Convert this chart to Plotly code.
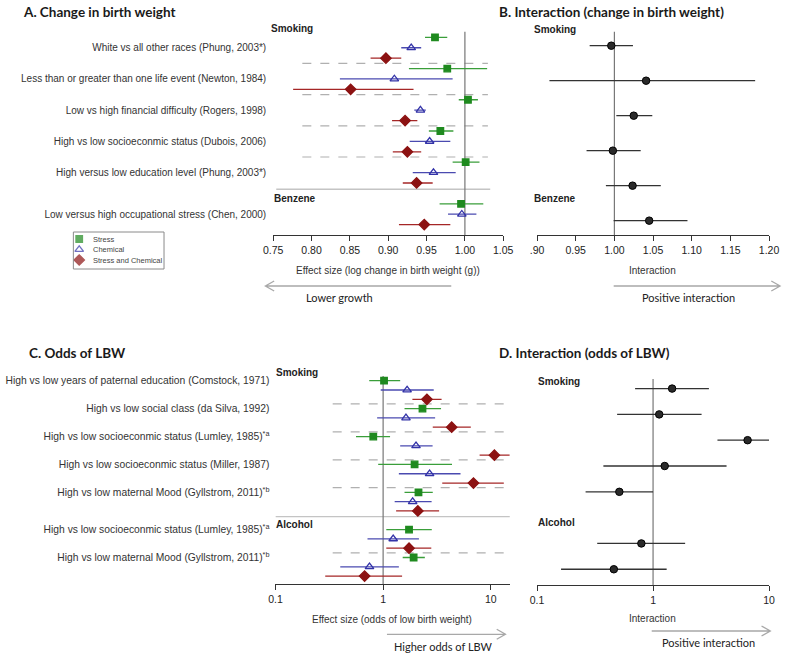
import plotly.graph_objects as go

W, H = 793, 653

# ---- panel A: change in birth weight ----
A_labels = [
    "White vs all other races (Phung, 2003*)",
    "Less than or greater than one life event (Newton, 1984)",
    "Low vs high financial difficulty (Rogers, 1998)",
    "High vs low socioeconmic status (Dubois, 2006)",
    "High versus low education level (Phung, 2003*)",
    "Low versus high occupational stress (Chen, 2000)",
]
A_group = ["Smoking", "Smoking", "Smoking", "Smoking", "Smoking", "Benzene"]
A_stress = [0.961, 0.977, 1.004, 0.968, 1.001, 0.995]
A_stress_lo = [0.948, 0.927, 0.992, 0.953, 0.984, 0.967]
A_stress_hi = [0.977, 1.029, 1.017, 0.985, 1.019, 1.024]
A_chem = [0.930, 0.908, 0.942, 0.954, 0.959, 0.996]
A_chem_lo = [0.917, 0.837, 0.934, 0.928, 0.932, 0.978]
A_chem_hi = [0.943, 0.984, 0.949, 0.981, 0.988, 1.015]
A_both = [0.897, 0.851, 0.922, 0.925, 0.937, 0.947]
A_both_lo = [0.877, 0.776, 0.905, 0.906, 0.919, 0.914]
A_both_hi = [0.917, 0.933, 0.938, 0.943, 0.958, 0.981]
A_ticks = [0.75, 0.80, 0.85, 0.90, 0.95, 1.00, 1.05]
A_ticktext = ["0.75", "0.80", "0.85", "0.90", "0.95", "1.00", "1.05"]

# ---- panel B: interaction (change in birth weight) ----
B_int = [0.996, 1.041, 1.025, 0.998, 1.0235, 1.045]
B_lo = [0.968, 0.916, 1.0025, 0.964, 0.989, 0.999]
B_hi = [1.024, 1.182, 1.049, 1.034, 1.060, 1.0945]
B_ticks = [0.90, 0.95, 1.00, 1.05, 1.10, 1.15, 1.20]
B_ticktext = [".90", "0.95", "1.00", "1.05", "1.10", "1.15", "1.20"]

# ---- panel C: odds of LBW ----
C_labels = [
    "High vs low years of paternal education (Comstock, 1971)",
    "High vs low social class (da Silva, 1992)",
    "High vs low socioeconmic status (Lumley, 1985)<sup>*a</sup>",
    "High vs low socioeconmic status (Miller, 1987)",
    "High vs low maternal Mood (Gyllstrom, 2011)<sup>*b</sup>",
    "High vs low socioeconmic status (Lumley, 1985)<sup>*a</sup>",
    "High vs low maternal Mood (Gyllstrom, 2011)<sup>*b</sup>",
]
C_group = ["Smoking", "Smoking", "Smoking", "Smoking", "Smoking", "Alcohol", "Alcohol"]
C_stress = [1.02, 2.32, 0.81, 1.96, 2.13, 1.74, 1.92]
C_stress_lo = [0.743, 1.58, 0.56, 0.90, 1.58, 1.07, 1.52]
C_stress_hi = [1.44, 3.45, 1.16, 4.36, 2.89, 2.83, 2.44]
C_chem = [1.67, 1.63, 2.02, 2.70, 1.88, 1.24, 0.747]
C_chem_lo = [0.95, 0.88, 1.44, 1.40, 1.28, 0.716, 0.40]
C_chem_hi = [2.95, 3.04, 2.88, 5.23, 2.82, 2.15, 1.40]
C_both = [2.55, 4.33, 10.8, 6.9, 2.10, 1.74, 0.673]
C_both_lo = [1.87, 2.89, 7.87, 3.54, 1.32, 1.07, 0.29]
C_both_hi = [3.49, 6.52, 15.0, 13.2, 3.31, 2.80, 1.50]
log_ticks = [0.1, 1, 10]
log_ticktext = ["0.1", "1", "10"]

# ---- panel D: interaction (odds of LBW) ----
D_int = [1.46, 1.13, 6.53, 1.26, 0.512, 0.793, 0.459]
D_lo = [0.70, 0.49, 3.59, 0.373, 0.262, 0.33, 0.161]
D_hi = [3.03, 2.62, 10.0, 4.30, 1.0, 1.89, 1.31]

GREEN, GREEN_L = "#1f8a1f", "#3a9e3a"
BLUE, BLUE_L = "#3333a8", "#4a4ab0"
RED, RED_L = "#8c1212", "#a52626"
AXC = "#333333"
SANS = "Liberation Sans, Arial, sans-serif"
HEAD = "Lato, Open Sans, sans-serif"


def rows(groups, per):
    # row index of the first mark of every study; a new group skips one row
    out, pos = [], 0
    for i, g in enumerate(groups):
        if i > 0 and g != groups[i - 1]:
            pos += 1
        out.append(pos)
        pos += per
    return out


def err(v, lo, hi, color):
    return dict(type="data", symmetric=False, array=[h - x for x, h in zip(v, hi)],
                arrayminus=[x - l for x, l in zip(v, lo)], width=0, thickness=1.3, color=color)


def dx(a, b):
    return [a / W, b / W]


def dy(top, bottom):
    return [1 - bottom / H, 1 - top / H]


fig = go.Figure()

series = [("Stress", "square", 6.5, GREEN, GREEN_L),
          ("Chemical", "triangle-up-open", 7.5, BLUE, BLUE_L),
          ("Stress and Chemical", "diamond", 8, RED, RED_L)]

# panel A traces
a_rows = rows(A_group, 3)
a_data = [(A_stress, A_stress_lo, A_stress_hi), (A_chem, A_chem_lo, A_chem_hi),
          (A_both, A_both_lo, A_both_hi)]
for k, ((name, sym, size, col, lcol), (v, lo, hi)) in enumerate(zip(series, a_data)):
    fig.add_trace(go.Scatter(
        x=v, y=[r + k for r in a_rows], mode="markers", name=name, showlegend=False,
        marker=dict(symbol=sym, size=size, color=col, line=dict(color=col, width=1.3)),
        error_x=err(v, lo, hi, lcol), xaxis="x", yaxis="y"))

# panel C traces
c_rows = rows(C_group, 3)
c_data = [(C_stress, C_stress_lo, C_stress_hi), (C_chem, C_chem_lo, C_chem_hi),
          (C_both, C_both_lo, C_both_hi)]
for k, ((name, sym, size, col, lcol), (v, lo, hi)) in enumerate(zip(series, c_data)):
    fig.add_trace(go.Scatter(
        x=v, y=[r + k for r in c_rows], mode="markers", name=name, showlegend=False,
        marker=dict(symbol=sym, size=size, color=col, line=dict(color=col, width=1.3)),
        error_x=err(v, lo, hi, lcol), xaxis="x3", yaxis="y3"))

# panel B and D traces
b_rows = list(range(len(B_int)))
fig.add_trace(go.Scatter(
    x=B_int, y=b_rows, mode="markers", showlegend=False,
    marker=dict(symbol="circle", size=7.5, color="#2a2a2a", line=dict(color="black", width=1)),
    error_x=err(B_int, B_lo, B_hi, "#333333"), xaxis="x2", yaxis="y2"))
d_rows = rows(C_group, 1)
fig.add_trace(go.Scatter(
    x=D_int, y=d_rows, mode="markers", showlegend=False,
    marker=dict(symbol="circle", size=7.5, color="#2a2a2a", line=dict(color="black", width=1)),
    error_x=err(D_int, D_lo, D_hi, "#333333"), xaxis="x4", yaxis="y4"))

# legend glyphs on a pixel overlay axis
LEG_X, LEG_Y, LEG_DY = 71, 239, 10.5
fig.add_trace(go.Scatter(
    x=[LEG_X] * 3, y=[LEG_Y + i * LEG_DY for i in range(3)], mode="markers", showlegend=False,
    marker=dict(symbol=[s[1] for s in series], size=[6.5, 7.5, 8], color=[s[3] for s in series],
                line=dict(color=[s[3] for s in series], width=1.3)),
    xaxis="x5", yaxis="y5", hoverinfo="skip"))

xax = dict(showline=True, linecolor=AXC, linewidth=1.3, ticks="outside", ticklen=5, tickwidth=1.3,
           tickcolor=AXC, showgrid=False, zeroline=False, tickfont=dict(family=SANS, size=10.5, color="#222"))
yax = dict(showline=False, showgrid=False, zeroline=False, ticks="", autorange=False)

A_bot, A_top = 19.0, -0.9
C_bot, C_top = 21.85, -1.15
B_bot, B_top = 5.41, -0.506
D_bot, D_top = 7.61, -0.72

fig.update_layout(
    width=W, height=H, margin=dict(l=0, r=0, t=0, b=0),
    paper_bgcolor="white", plot_bgcolor="rgba(0,0,0,0)", showlegend=False,
    xaxis=dict(xax, domain=dx(270, 506), range=[0.75, 1.05], tickvals=A_ticks, ticktext=A_ticktext,
               anchor="y"),
    yaxis=dict(yax, domain=dy(28, 235), range=[A_bot, A_top], anchor="x",
               tickvals=[r + 1 for r in a_rows], ticktext=A_labels, ticklabelstandoff=6,
               tickfont=dict(family=SANS, size=10, color="#333")),
    xaxis2=dict(xax, domain=dx(540.7, 778.7), range=[0.9, 1.2], tickvals=B_ticks, ticktext=B_ticktext,
                anchor="y2"),
    yaxis2=dict(yax, domain=dy(28, 235), range=[B_bot, B_top], anchor="x2", showticklabels=False),
    xaxis3=dict(xax, type="log", domain=dx(272.3, 512.7), range=[-1, 1.176], tickvals=log_ticks,
                ticktext=log_ticktext, anchor="y3"),
    yaxis3=dict(yax, domain=dy(370, 584), range=[C_bot, C_top], anchor="x3",
                tickvals=c_rows, ticktext=C_labels, ticklabelstandoff=5,
                tickfont=dict(family=SANS, size=10.3, color="#333")),
    xaxis4=dict(xax, type="log", domain=dx(540.7, 778.7), range=[-1, 1], tickvals=log_ticks,
                ticktext=log_ticktext, anchor="y4"),
    yaxis4=dict(yax, domain=dy(370, 585), range=[D_bot, D_top], anchor="x4", showticklabels=False),
    xaxis5=dict(domain=[0, 1], range=[0, W], visible=False, fixedrange=True, anchor="y5"),
    yaxis5=dict(domain=[0, 1], range=[H, 0], visible=False, fixedrange=True, anchor="x5"),
)

shapes = []
GRID = "#b0b0b0"


def separators(xref, yref, study_rows, groups, x0, x1, sx0, sx1, sep_y):
    for i in range(1, len(study_rows)):
        if groups[i] == groups[i - 1]:
            shapes.append(dict(type="line", xref=xref, yref=yref, x0=x0, x1=x1,
                               y0=study_rows[i] - 0.5, y1=study_rows[i] - 0.5,
                               line=dict(color=GRID, width=1.2, dash="dash"), layer="below"))
        else:
            shapes.append(dict(type="line", xref=xref, yref=yref, x0=sx0, x1=sx1,
                               y0=sep_y, y1=sep_y, line=dict(color="#c4c4c4", width=1.3), layer="below"))


separators("x", "y", a_rows, A_group, 0.788, 1.030, 0.754, 1.033, 14.6)
separators("x3", "y3", c_rows, C_group, 0.34, 15, 0.1, 15.5, 14.6)

for xr, yr, top, bot in [("x", "y", -0.55, A_bot), ("x2", "y2", -0.4, B_bot),
                         ("x3", "y3", -0.5, C_bot), ("x4", "y4", -0.37, D_bot)]:
    shapes.append(dict(type="line", xref=xr, yref=yr, x0=1, x1=1, y0=top, y1=bot,
                       line=dict(color="#777777", width=1.2), layer="below"))

# legend box
shapes.append(dict(type="rect", xref="x5", yref="y5", x0=65, x1=158, y0=232, y1=269,
                   line=dict(color="#8a8a8a", width=1)))

# direction arrows (pixel overlay)
ARC = "#a8a8a8"
for x_tail, x_head, y in [(452.7, 262, 286), (619.3, 790, 286), (386.7, 508.3, 634.3), (658.3, 780, 631)]:
    s = 1 if x_head > x_tail else -1
    shapes.append(dict(type="path", xref="x5", yref="y5",
                       path=f"M{x_tail},{y} L{x_head},{y} M{x_head - s * 9},{y - 5} L{x_head},{y} L{x_head - s * 9},{y + 5}",
                       line=dict(color=ARC, width=1.3)))

fig.update_layout(shapes=shapes)


def txt(x, y, t, size=10, family=SANS, bold=False, xanchor="left", color="#222"):
    fig.add_annotation(x=x, y=y, xref="x5", yref="y5", text=f"<b>{t}</b>" if bold else t,
                       showarrow=False, xanchor=xanchor, yanchor="middle",
                       font=dict(family=family, size=size, color=color))


txt(11, 11.5, "A. Change in birth weight", 13.5, HEAD, True, color="#1a1a1a")
txt(500, 11.5, "B. Interaction (change in birth weight)", 13.5, HEAD, True, color="#1a1a1a")
txt(17.7, 353, "C. Odds of LBW", 13.5, HEAD, True, color="#1a1a1a")
txt(500, 353, "D. Interaction (odds of LBW)", 13.5, HEAD, True, color="#1a1a1a")

for x, y, t in [(265.7, 28.5, "Smoking"), (269, 198, "Benzene"), (536, 29, "Smoking"), (536, 198, "Benzene"),
                (270.7, 372, "Smoking"), (270.7, 524.5, "Alcohol"), (539.3, 381, "Smoking"),
                (539.3, 522, "Alcohol")]:
    txt(x, y, t, 10, SANS, True, color="#222")

txt(388, 270, "Effect size (log change in birth weight (g))", 10, xanchor="center", color="#333")
txt(659.3, 270, "Interaction", 10, xanchor="center", color="#333")
txt(392.3, 619.5, "Effect size (odds of low birth weight)", 10, xanchor="center", color="#333")
txt(659.3, 618.5, "Interaction", 10, xanchor="center", color="#333")

txt(338, 297, "Lower growth", 11, HEAD, xanchor="center", color="#222")
txt(696, 297, "Positive interaction", 11, HEAD, xanchor="center", color="#222")
txt(445, 646, "Higher odds of LBW", 11, HEAD, xanchor="center", color="#222")
txt(716.7, 642, "Positive interaction", 11, HEAD, xanchor="center", color="#222")

for i, s in enumerate(series):
    txt(83, LEG_Y + i * LEG_DY, s[0], 7.5, color="#444")

# the page body has a default 8px margin; drop it so the figure sits at the window corner
fig.write_html("out.html", config={"displayModeBar": False},
               post_script="document.body.style.margin='0';")
